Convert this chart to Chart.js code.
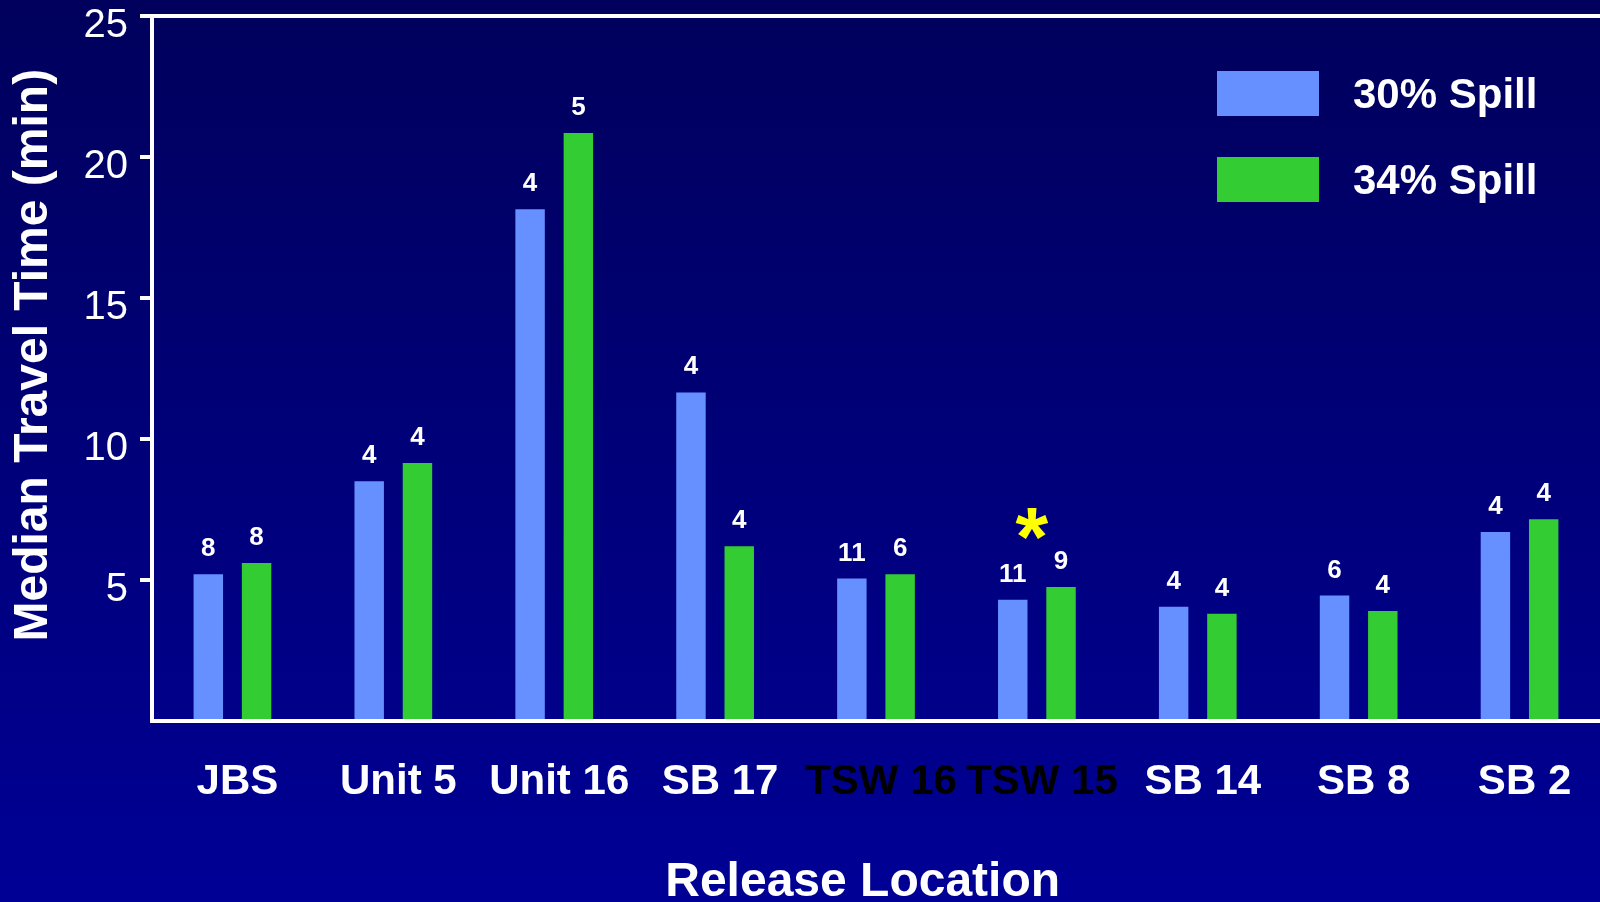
<!DOCTYPE html>
<html>
<head>
<meta charset="utf-8">
<script src="https://cdn.jsdelivr.net/npm/chart.js@4.4.1/dist/chart.umd.min.js"></script>
<style>
html, body { margin: 0; padding: 0; }
body { width: 1600px; height: 902px; overflow: hidden; background: linear-gradient(to bottom, #00005c 0%, #000096 100%); }
canvas { display: block; }
</style>
</head>
<body>
<canvas id="travel_chart" width="1600" height="902"></canvas>
<script>
// 放流地点
const locations = ['JBS', 'Unit 5', 'Unit 16', 'SB 17', 'TSW 16', 'TSW 15', 'SB 14', 'SB 8', 'SB 2'];
// 移動時間の中央値（分）
const spill30 = [5.2, 8.5, 18.15, 11.65, 5.05, 4.3, 4.05, 4.45, 6.7];
const spill34 = [5.6, 9.15, 20.85, 6.2, 5.2, 4.75, 3.8, 3.9, 7.15];
// バーの上の数
const n30 = [8, 4, 4, 4, 11, 11, 4, 6, 4];
const n34 = [8, 4, 5, 4, 6, 9, 4, 4, 4];
// 有意差マーク
const marks = ['', '', '', '', '', '*', '', '', ''];
// y軸の目盛り
const yTicks = [0, 5, 10, 15, 20, 25];
// 黒で表示するラベル
const darkLabels = ['TSW 16', 'TSW 15'];

const fontFamily = '"Liberation Sans", Arial, Helvetica, sans-serif';
const blue = '#6690ff';
const green = '#33cc33';

// バーの上に数を表示
const countLabels = {
    id: 'countLabels',
    afterDatasetsDraw(chart) {
        const ctx = chart.ctx;
        const counts = [n30, n34];
        ctx.save();
        ctx.fillStyle = '#fff';
        ctx.font = 'bold 26px ' + fontFamily;
        ctx.textAlign = 'center';
        ctx.textBaseline = 'alphabetic';
        chart.data.datasets.forEach((ds, i) => {
            chart.getDatasetMeta(i).data.forEach((bar, j) => {
                ctx.fillText(String(counts[i][j]), bar.x, bar.y - 18);
            });
        });
        ctx.restore();
    }
};

// 有意差マーク（*）
const sigMarks = {
    id: 'sigMarks',
    afterDatasetsDraw(chart) {
        const ctx = chart.ctx;
        const xs = chart.scales.x;
        const ys = chart.scales.y;
        ctx.save();
        ctx.fillStyle = '#ffff00';
        ctx.font = 'bold 84px ' + fontFamily;
        ctx.textAlign = 'center';
        ctx.textBaseline = 'alphabetic';
        marks.forEach((m, i) => {
            if (!m) return;
            const top = ys.getPixelForValue(Math.max(spill30[i], spill34[i]));
            ctx.fillText(m, xs.getPixelForValue(i) - 5, top - 21);
        });
        ctx.restore();
    }
};

// 凡例
const boxLegend = {
    id: 'boxLegend',
    afterDraw(chart) {
        const ctx = chart.ctx;
        ctx.save();
        ctx.font = 'bold 42px ' + fontFamily;
        ctx.textAlign = 'left';
        ctx.textBaseline = 'middle';
        chart.data.datasets.forEach((ds, i) => {
            const y = 71 + i * 86;
            ctx.fillStyle = ds.backgroundColor;
            ctx.fillRect(1217, y, 102, 45);
            ctx.fillStyle = '#fff';
            ctx.fillText(ds.label, 1353, y + 25);
        });
        ctx.restore();
    }
};

const travelContext = document.getElementById('travel_chart').getContext('2d');
const travelChart = new Chart(travelContext, {
    type: 'bar',
    data: {
        labels: locations,
        datasets: [
            { label: '30% Spill', data: spill30, backgroundColor: blue },
            { label: '34% Spill', data: spill34, backgroundColor: green }
        ]
    },
    options: {
        responsive: false,
        animation: false,
        layout: { padding: { top: 16, right: 0, bottom: 0, left: 0 } },
        datasets: {
            bar: { categoryPercentage: 0.6, barPercentage: 0.61 }
        },
        plugins: {
            legend: { display: false },
            tooltip: { enabled: false }
        },
        scales: {
            x: {
                border: { display: true, color: '#fff', width: 4 },
                grid: { display: false, drawTicks: false },
                ticks: {
                    autoSkip: false,
                    maxRotation: 0,
                    padding: 36,
                    labelOffset: 5,
                    color: ctx => darkLabels.includes(locations[ctx.index]) ? '#000' : '#fff',
                    font: { family: fontFamily, size: 42, weight: 'bold' }
                },
                title: {
                    display: true,
                    text: 'Release Location  ',
                    color: '#fff',
                    font: { family: fontFamily, size: 48, weight: 'bold', lineHeight: 1 },
                    padding: { top: 0, bottom: -5 }
                },
                afterFit: s => { s.height = 181; s.paddingLeft = 0; s.paddingRight = 0; }
            },
            y: {
                min: yTicks[0],
                max: yTicks[yTicks.length - 1],
                afterBuildTicks: s => { s.ticks = yTicks.map(v => ({ value: v })); },
                border: { display: true, color: '#fff', width: 4 },
                grid: {
                    drawOnChartArea: true,
                    lineWidth: 4,
                    color: ctx => ctx.tick && ctx.tick.value === yTicks[yTicks.length - 1] ? '#fff' : 'rgba(0,0,0,0)',
                    tickColor: ctx => ctx.tick && ctx.tick.value === 0 ? 'rgba(0,0,0,0)' : '#fff',
                    tickLength: 12,
                    tickWidth: 4
                },
                ticks: {
                    color: '#fff',
                    padding: 12,
                    labelOffset: 10,
                    font: { family: fontFamily, size: 40 },
                    callback: v => v === 0 ? '' : v
                },
                title: {
                    display: true,
                    text: '  Median Travel Time (min)',
                    color: '#fff',
                    font: { family: fontFamily, size: 48, weight: 'bold', lineHeight: 1.2 },
                    padding: { top: 5, bottom: 0 }
                },
                afterFit: s => { s.width = 152; s.paddingTop = 0; s.paddingBottom = 0; }
            }
        }
    },
    plugins: [countLabels, sigMarks, boxLegend]
});
</script>
</body>
</html>
